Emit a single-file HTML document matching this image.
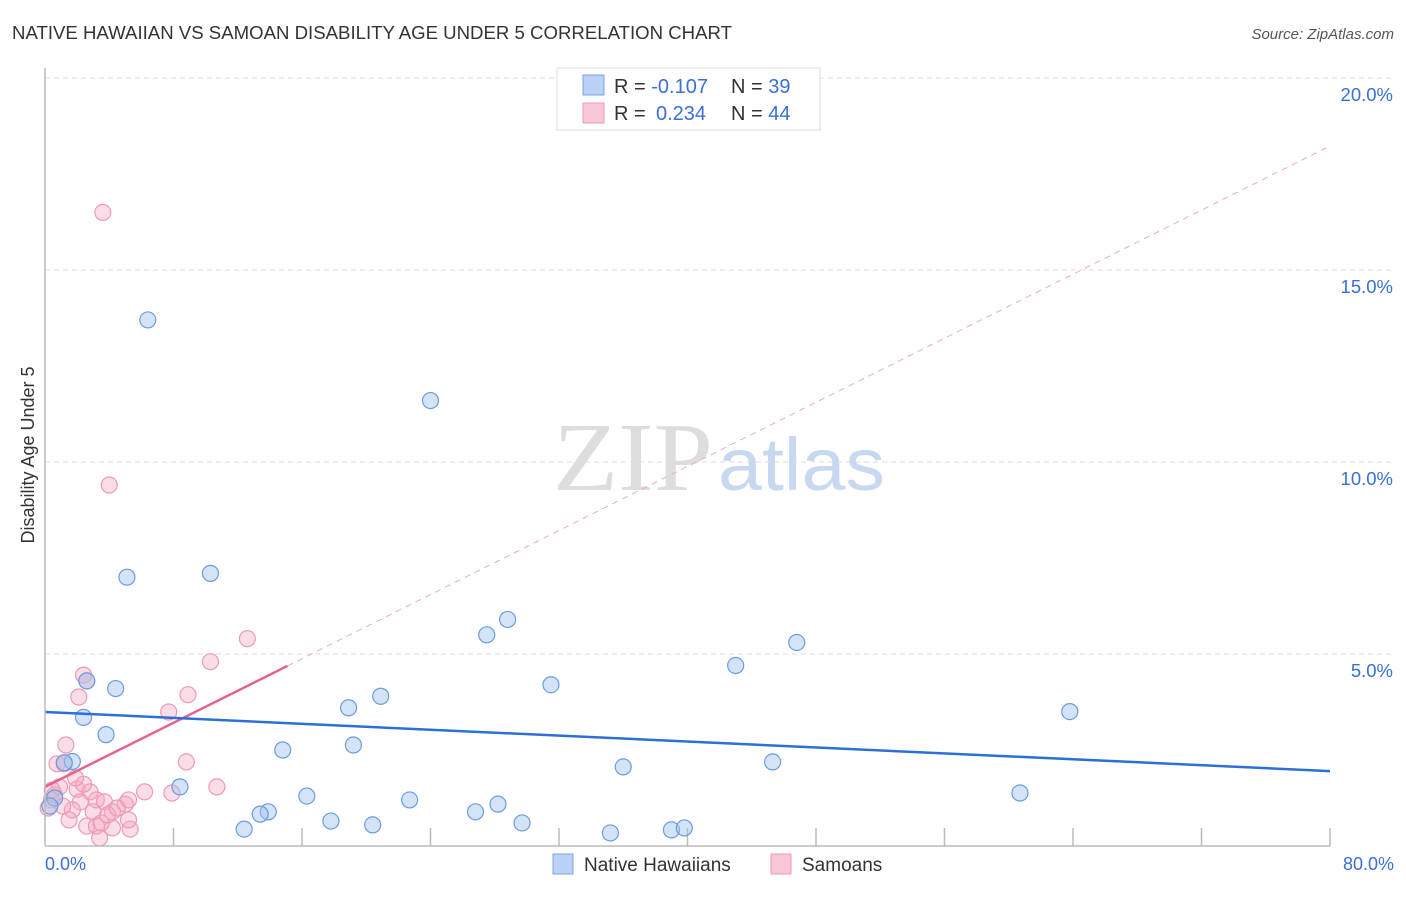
<!DOCTYPE html>
<html><head><meta charset="utf-8"><style>
body{margin:0;background:#fff;font-family:"Liberation Sans",sans-serif}
</style></head><body>
<svg id="c" width="1406" height="892" xmlns="http://www.w3.org/2000/svg">
<text x="12" y="39" font-size="18" fill="#333" textLength="720" lengthAdjust="spacingAndGlyphs">NATIVE HAWAIIAN VS SAMOAN DISABILITY AGE UNDER 5 CORRELATION CHART</text>
<text x="1394" y="39" font-size="15" fill="#555" font-style="italic" text-anchor="end">Source: ZipAtlas.com</text>
<text x="34" y="455" font-size="18" fill="#333" text-anchor="middle" transform="rotate(-90 34 455)">Disability Age Under 5</text>
<text x="553" y="490" font-size="98" fill="#ddd" font-family="Liberation Serif" textLength="160" lengthAdjust="spacingAndGlyphs">ZIP</text>
<text x="718" y="490" font-size="74" fill="#c8d8f0" textLength="167" lengthAdjust="spacingAndGlyphs">atlas</text>
<g id="grid"></g><g id="pts"></g><g id="lines"></g>
<line x1="45" y1="68" x2="45" y2="846" stroke="#bbb" stroke-width="1.5"/>
<line x1="45" y1="846" x2="1330" y2="846" stroke="#bbb" stroke-width="1.5"/>
<text x="45" y="870" font-size="18" fill="#3a6fd8">0.0%</text>
<text x="1394" y="870" font-size="18" fill="#3a6fd8" text-anchor="end">80.0%</text>
<g>
<rect x="557" y="68" width="263" height="62" fill="#fff" stroke="#ddd"/>
<rect x="583" y="75" width="21" height="20" fill="#b9d2f5" stroke="#7aa3e6"/>
<rect x="583" y="103" width="21" height="20" fill="#f9c6d5" stroke="#ee9ab4"/>
<text x="614" y="93" font-size="20" fill="#333">R = <tspan fill="#3a6fd8">-0.107</tspan><tspan x="731">N = </tspan><tspan fill="#3a6fd8">39</tspan></text>
<text x="614" y="120" font-size="20" fill="#333">R = <tspan fill="#3a6fd8" x="656">0.234</tspan><tspan x="731">N = </tspan><tspan fill="#3a6fd8">44</tspan></text>
</g>
<g>
<rect x="553" y="854" width="20" height="20" fill="#b9d2f5" stroke="#7aa3e6"/>
<text x="584" y="871" font-size="19" fill="#333">Native Hawaiians</text>
<rect x="771" y="854" width="20" height="20" fill="#f9c6d5" stroke="#ee9ab4"/>
<text x="802" y="871" font-size="19" fill="#333">Samoans</text>
</g>
</svg>
<script>
const yTicks=[5,10,15,20];
const xTickCount=10;
const blueX=[6.4,24,5.1,10.3,27.5,28.8,46.8,43,31.5,4.4,2.6,20.9,18.9,63.8,2.4,3.8,19.2,14.8,1.7,1.2,36,45.3,8.4,60.7,16.3,22.7,28.2,26.8,13.9,13.4,17.8,29.7,20.4,12.4,35.2,39,39.8,0.6,0.3];
const blueY=[13.7,11.6,7.0,7.1,5.5,5.9,5.3,4.7,4.2,4.1,4.3,3.9,3.6,3.5,3.35,2.9,2.63,2.5,2.2,2.17,2.06,2.19,1.54,1.38,1.3,1.2,1.09,0.89,0.89,0.83,0.65,0.6,0.55,0.44,0.34,0.42,0.47,1.25,1.04];
const pinkX=[3.6,4.0,12.6,10.3,2.4,2.6,8.9,2.1,7.7,1.3,8.8,0.75,1.2,6.2,7.9,10.7,2.0,3.2,2.8,3.7,4.2,5.0,5.2,2.2,1.7,1.5,3.0,2.6,3.2,2.4,0.9,0.6,0.4,1.1,4.2,5.3,3.5,5.2,3.4,3.9,4.5,1.9,0.2,0.45];
const pinkY=[16.5,9.4,5.4,4.8,4.45,4.3,3.94,3.88,3.49,2.63,2.19,2.14,2.14,1.41,1.38,1.54,1.48,1.2,1.41,1.15,0.89,1.09,1.2,1.15,0.94,0.68,0.89,0.52,0.52,1.61,1.54,1.33,1.2,1.04,0.47,0.44,0.6,0.68,0.21,0.81,0.99,1.77,0.99,1.46];
const blueTrend=[3.49,1.95];
const pinkTrend=[1.54,4.69,15.1];
const X=v=>45+v*(1285/80), Y=v=>846-v*38.4;
const NS='http://www.w3.org/2000/svg';
function mk(t,a,p){const e=document.createElementNS(NS,t);for(const k in a)e.setAttribute(k,a[k]);p.appendChild(e);return e;}
const g=document.getElementById('grid');
yTicks.forEach(t=>{
 const l=mk('line',{x1:45,x2:1394,y1:Y(t),y2:Y(t),stroke:'#ddd','stroke-dasharray':'5,4'},g);
 
 
 const tx=mk('text',{x:1393,y:Y(t)+23,'font-size':18.5,fill:'#3a6fd8','text-anchor':'end'},g);
 tx.textContent=t.toFixed(1)+'%';
 
 
});
for(let i=1;i<=xTickCount;i++){
 const l=mk('line',{x1:X(i*8),x2:X(i*8),y1:828,y2:846,stroke:'#bbb','stroke-width':1.5},g);
 
 
}
const p=document.getElementById('pts');
pinkX.forEach((v,i)=>{
 const c=mk('circle',{cx:X(v),cy:Y(pinkY[i]),r:8,fill:'rgba(246,170,195,0.4)',stroke:'#ee9ab4','stroke-width':1.2},p);
 
 
});
blueX.forEach((v,i)=>{
 const c=mk('circle',{cx:X(v),cy:Y(blueY[i]),r:8,fill:'rgba(160,195,240,0.45)',stroke:'#6b9be0','stroke-width':1.2},p);
 
 
});
const L=document.getElementById('lines');
const s=(pinkTrend[1]-pinkTrend[0])/pinkTrend[2];
const d=mk('line',{x1:X(pinkTrend[2]),y1:Y(pinkTrend[1]),x2:X(80),y2:Y(pinkTrend[0]+s*80),stroke:'#eeaac0','stroke-dasharray':'6,5'},L);


const ps=mk('line',{x1:X(0),y1:Y(pinkTrend[0]),x2:X(pinkTrend[2]),y2:Y(pinkTrend[1]),stroke:'#e8628e','stroke-width':2.5},L);


const bl=mk('line',{x1:X(0),y1:Y(blueTrend[0]),x2:X(80),y2:Y(blueTrend[1]),stroke:'#2c6fd6','stroke-width':2.5},L);


</script>
</body></html>
